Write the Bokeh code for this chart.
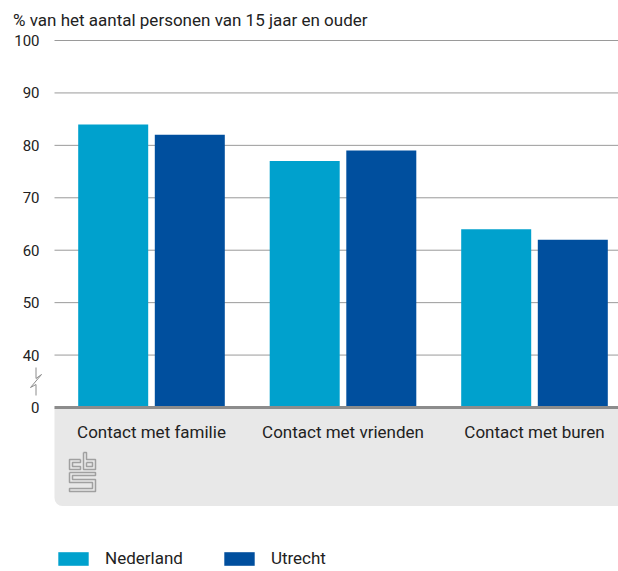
from bokeh.plotting import figure
from bokeh.models import (ColumnDataSource, FixedTicker, BoxAnnotation, Label,
                          LabelSet, Legend, LegendItem, Range1d)
from bokeh.core.properties import value
from bokeh.transform import dodge
from bokeh.embed import file_html
from bokeh.resources import INLINE

# ---- data ----
categories = ["Contact met familie", "Contact met vrienden", "Contact met buren"]
series = ["Nederland", "Utrecht"]
nederland = [84, 77, 64]
utrecht = [82, 79, 62]
y_ticks = [30, 40, 50, 60, 70, 80, 90, 100]
y_tick_labels = {30: "0"}
title_text = "% van het aantal personen van 15 jaar en ouder"

FONT = "Roboto"
TXT = "#222222"
C_NL = "#00a1cd"
C_UT = "#004f9e"
GRID = "#9a9a9a"

# ---- geometry (page px) ----
W, H = 618, 571
PLOT_L = 54             # left edge of plotting area
PX_PER_CAT = 191.5
FIRST_CAT_PX = 151.0
TOP_PX = 40.0           # px of value 100
PX_PER_UNIT = 367.0 / 70.0
BREAK_BASE = 30         # axis position used for "0"


def px2x(px):
    return (px - FIRST_CAT_PX) / PX_PER_CAT


def px2y(py):
    return 100 - (py - TOP_PX) / PX_PER_UNIT


p = figure(width=W, height=H, output_backend="svg", toolbar_location=None,
           x_range=Range1d(px2x(0), px2x(W)), y_range=Range1d(px2y(H), px2y(0)),
           x_axis_location=None, min_border=0, outline_line_color=None,
           background_fill_color="white", border_fill_color="white")
p.grid.visible = False

# y axis, drawn at the left edge of the plotting area
ax = p.yaxis[0]
ax.fixed_location = px2x(PLOT_L)
ax.ticker = FixedTicker(ticks=y_ticks)
ax.major_label_overrides = y_tick_labels
ax.axis_line_color = None
ax.major_tick_line_color = None
ax.minor_tick_line_color = None
ax.major_tick_out = 0
ax.major_tick_in = 0
ax.major_label_standoff = 15
ax.major_label_text_font = FONT
ax.major_label_text_font_size = "15px"
ax.major_label_text_color = TXT

# grey label panel
p.add_layout(BoxAnnotation(top=BREAK_BASE, bottom=px2y(505.5), left=px2x(PLOT_L), right=None,
                           fill_color="#e8e8e8", fill_alpha=1, line_color=None,
                           border_radius=(0, 0, 0, 8), level="underlay"))

# gridlines at the tick values above the break
grid_vals = [t for t in y_ticks if t > BREAK_BASE]
p.segment(x0=px2x(PLOT_L), x1=px2x(W), y0=grid_vals, y1=grid_vals,
          line_color=GRID, line_width=1, level="underlay")

# bars
idx = list(range(len(categories)))
src = ColumnDataSource(dict(x=idx, cat=categories, nl=nederland, ut=utrecht,
                            base=[BREAK_BASE] * len(idx)))
bw = 70 / PX_PER_CAT
off = 38.3 / PX_PER_CAT
r_nl = p.vbar(x=dodge("x", -off), top="nl", bottom="base", width=bw,
              source=src, fill_color=C_NL, line_color=None)
r_ut = p.vbar(x=dodge("x", off), top="ut", bottom="base", width=bw,
              source=src, fill_color=C_UT, line_color=None)

# baseline
p.segment(x0=px2x(PLOT_L), x1=px2x(W), y0=BREAK_BASE, y1=BREAK_BASE,
          line_color="#8c8c8c", line_width=3)

# category labels
p.add_layout(LabelSet(x="x", y=px2y(437.5), text="cat", source=src, text_align="center",
                      text_baseline="alphabetic", text_font=value(FONT),
                      text_font_size=value("17px"), text_color=TXT))

# title
p.add_layout(Label(x=px2x(12.5), y=px2y(19.3), text=title_text, text_font=FONT,
                   text_font_size="17px", text_color=TXT, text_baseline="alphabetic"))

# axis break symbol
brk = [(35.5, 367), (35.5, 378), (41, 374), (30, 387), (35.5, 384), (35.5, 395)]
p.line(x=[px2x(a) for a, b in brk], y=[px2y(b) for a, b in brk],
       line_color="#8c8c8c", line_width=1)

# cbs logo (decoration)
logo = [
    [(80, 459), (69, 459), (69, 469), (80, 469), (80, 466), (72, 466), (72, 462), (80, 462), (80, 459)],
    [(83, 452), (86, 452), (86, 459), (95, 459), (95, 469), (83, 469), (83, 452)],
    [(86, 462), (92, 462), (92, 466), (86, 466), (86, 462)],
    [(69, 472), (95, 472), (95, 475), (72, 475), (72, 479), (95, 479), (95, 491), (69, 491),
     (69, 488), (92, 488), (92, 482), (69, 482), (69, 472)],
]
p.multi_line(xs=[[px2x(a) for a, b in s] for s in logo],
             ys=[[px2y(b) for a, b in s] for s in logo],
             line_color="#a0a0a0", line_width=1.5)

# legend
legend = Legend(items=[LegendItem(label=series[0], renderers=[r_nl]),
                       LegendItem(label=series[1], renderers=[r_ut])],
                orientation="horizontal", location=(PLOT_L, 3), padding=0, margin=0,
                spacing=37, glyph_width=38, glyph_height=17, label_height=17,
                label_standoff=13, label_text_font=FONT, label_text_font_size="17px",
                label_text_color=TXT, border_line_color=None, background_fill_alpha=0)
p.add_layout(legend)

open("out.html", "w").write(file_html(p, INLINE))
